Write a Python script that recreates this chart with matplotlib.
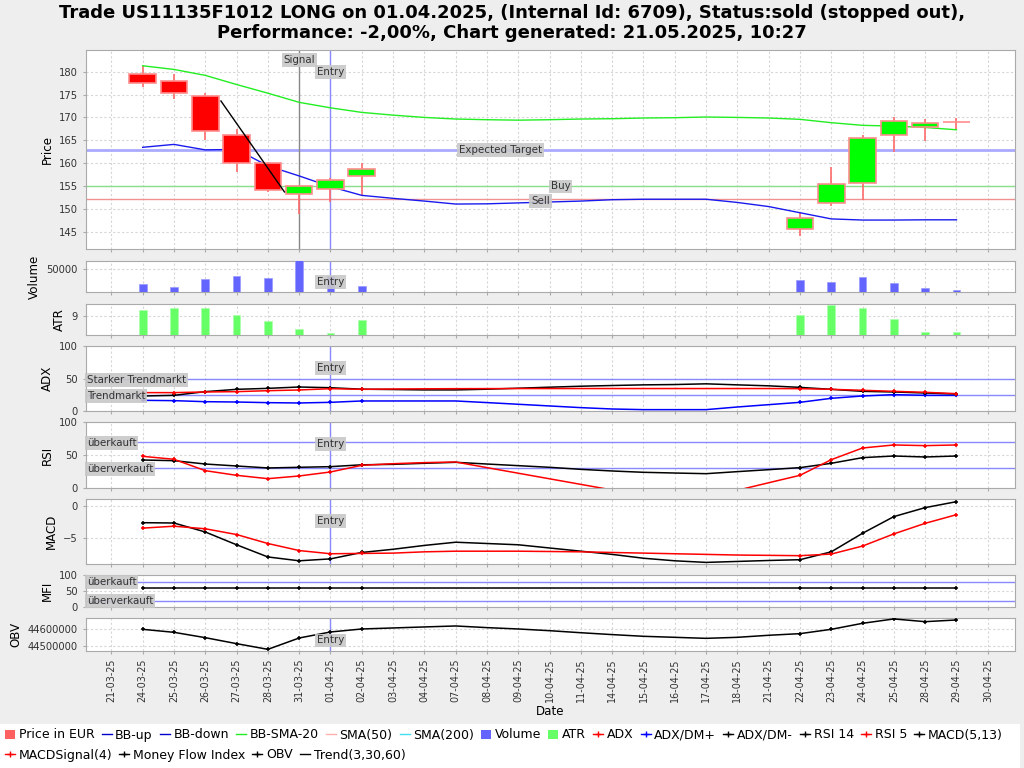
import numpy as np
import matplotlib
matplotlib.use('Agg')
import matplotlib.pyplot as plt
from matplotlib.lines import Line2D
from matplotlib.patches import Rectangle
from matplotlib.ticker import FuncFormatter

plt.rcParams['font.family'] = ['DejaVu Sans']

N = None
dates = ['21-03-25', '24-03-25', '25-03-25', '26-03-25', '27-03-25', '28-03-25', '31-03-25',
         '01-04-25', '02-04-25', '03-04-25', '04-04-25', '07-04-25', '08-04-25', '09-04-25',
         '10-04-25', '11-04-25', '14-04-25', '15-04-25', '16-04-25', '17-04-25', '18-04-25',
         '21-04-25', '22-04-25', '23-04-25', '24-04-25', '25-04-25', '28-04-25', '29-04-25',
         '30-04-25']
GAP = [N] * 13

# Candles (price in EUR)
c_open = [N, 179.6, 178.0, 174.7, 166.1, 160.0, 153.2, 154.3, 157.2] + GAP + \
         [145.7, 151.3, 155.7, 166.2, 168.0, 169.05, N]
c_close = [N, 177.5, 175.3, 167.0, 160.1, 154.1, 155.1, 156.4, 158.7] + GAP + \
          [147.9, 155.5, 165.6, 169.2, 168.85, 169.0, N]
c_high = [N, 181.3, 179.4, 175.4, 167.5, 160.2, 155.3, 156.8, 160.0] + GAP + \
         [149.2, 159.1, 166.2, 170.1, 169.6, 169.8, N]
c_low = [N, 176.6, 174.0, 165.1, 158.1, 153.7, 148.9, 151.4, 153.0] + GAP + \
        [144.05, 150.7, 152.0, 162.4, 164.8, 167.4, N]

volume = [N, 18600, 12200, 28600, 35000, 30000, 70000, 34300, 13600] + GAP + \
         [26500, 22900, 32900, 20700, 9300, 5000, N]
atr = [N, 9.49, 9.63, 9.61, 9.11, 8.64, 8.05, 7.77, 8.77] + GAP + \
      [9.11, 9.88, 9.61, 8.84, 7.85, 7.85, N]

bb_sma20 = [N, 181.3, 180.5, 179.2, 177.2, 175.3, 173.3, 172.1, 171.1, 170.5, 170.0, 169.65,
            169.5, 169.4, 169.5, 169.65, 169.72, 169.87, 169.94, 170.09, 170.0, 169.87, 169.58,
            168.85, 168.27, 168.1, 167.8, 167.3, N]
bb_down = [N, 163.46, 164.1, 162.9, 163.0, 159.4, 157.2, 154.85, 152.95, 152.3, 151.7, 151.05,
           151.1, 151.3, 151.5, 151.7, 152.0, 152.1, 152.1, 152.1, 151.4, 150.5, 149.15,
           147.8, 147.55, 147.55, 147.6, 147.6, N]

adx = [N, 28.4, 28.4, 29.4, 29.9, 31.4, 32.5, 34.5, 33.5, 34.0, 34.3, 34.5, 34.6, 34.7, 34.7,
       34.7, 34.7, 34.7, 34.7, 34.7, 34.7, 34.7, 34.5, 33.5, 32.0, 30.4, 28.9, 26.8, N]
adx_dmp = [N, 16.5, 16.0, 14.4, 13.9, 12.9, 12.4, 13.4, 15.5, 15.5, 15.5, 15.5, 13.0, 10.4, 7.8,
           5.2, 3.1, 2.1, 2.1, 2.1, 6.2, 9.8, 13.4, 19.6, 23.2, 25.3, 24.2, 24.2, N]
adx_dmm = [N, 23.2, 24.2, 29.9, 33.5, 35.0, 37.1, 36.0, 33.7, 33.2, 32.6, 32.6, 33.7, 35.2, 36.8,
           38.3, 39.4, 40.4, 40.9, 42.0, 40.4, 38.9, 36.5, 33.5, 30.4, 29.4, 27.8, 26.3, N]

rsi14 = [N, 42.6, 41.6, 36.5, 33.5, 30.5, 31.5, 32.5, 35.3, 36.0, 37.6, 39.1, 36.5, 34.0, 31.5,
         28.4, 25.9, 23.9, 22.8, 21.8, 24.9, 27.9, 31.0, 37.6, 46.2, 48.7, 47.2, 48.7, N]
rsi5 = [N, 48.2, 43.7, 26.4, 19.3, 14.2, 18.3, 24.4, 34.5, 37.0, 38.6, 39.6, 31.0, 22.5, 14.0,
        5.5, -3.0, -11.5, -22.0, -15.0, -3.5, 8.0, 19.3, 43.1, 60.9, 65.5, 64.5, 65.5, N]

macd = [N, -2.55, -2.6, -4.0, -6.0, -7.9, -8.5, -8.2, -7.2, -6.7, -6.1, -5.6, -5.8, -6.0, -6.5,
        -7.0, -7.5, -8.1, -8.5, -8.75, -8.6, -8.45, -8.33, -7.1, -4.2, -1.6, -0.2, 0.73, N]
macd_sig = [N, -3.4, -3.1, -3.5, -4.4, -5.8, -6.9, -7.4, -7.35, -7.3, -7.1, -7.0, -7.0, -7.0,
            -7.05, -7.1, -7.2, -7.3, -7.4, -7.5, -7.6, -7.65, -7.7, -7.45, -6.2, -4.3, -2.65,
            -1.3, N]

mfi = [N] + [59] * 27 + [N]

obv = [N, 44596000, 44578400, 44547000, 44511800, 44478400, 44545000, 44580400, 44598000,
       44604000, 44610000, 44615700, 44606000, 44598000, 44588000, 44576000, 44565000,
       44555000, 44549000, 44543000, 44549000, 44561000, 44570600, 44596000, 44631400,
       44657000, 44641000, 44651000, N]

trend_x = [3.5, 5.53]
trend_y = [173.6, 153.7]

signal_idx = 6
entry_idx = 7
expected_target = 162.9
buy_level = 155.1
sell_level = 152.1

# ---------------------------------------------------------------------------
idx = np.arange(len(dates))


def arr(v):
    return np.array([np.nan if a is None else a for a in v], dtype=float)


mark_mask = ~np.isnan(arr(c_close))

W, H = 1024, 768
fig = plt.figure(figsize=(W / 100, H / 100), dpi=100, facecolor='#eeeeee')

L, R = 85.7, 1015.0
TICK_FS = 7.2
YL_FS = 8.6


def mkax(top, bot):
    return fig.add_axes([L / W, 1 - bot / H, (R - L) / W, (bot - top) / H])


ax_p = mkax(50, 249.3)
ax_v = mkax(260.7, 292.3)
ax_a = mkax(303.7, 335.3)
ax_x = mkax(346.3, 411)
ax_r = mkax(422.3, 488)
ax_m = mkax(499.3, 564)
ax_f = mkax(575.3, 607)
ax_o = mkax(618.3, 651)
axes = [ax_p, ax_v, ax_a, ax_x, ax_r, ax_m, ax_f, ax_o]

XL = (-0.82, 28.87)
for ax in axes:
    ax.set_facecolor('white')
    ax.set_xlim(*XL)
    ax.set_xticks(idx)
    ax.grid(True, color='#d6d6d6', ls=(0, (2, 2)), lw=0.8)
    ax.set_axisbelow(True)
    for s in ax.spines.values():
        s.set_color('#aaaaaa')
    ax.tick_params(labelsize=TICK_FS, length=2, color='#aaaaaa', labelcolor='#333333')
    if ax is not ax_o:
        ax.tick_params(labelbottom=False)

LBL = dict(fontsize=7.4, color='#333333',
           bbox=dict(facecolor='#c8c8c8', edgecolor='none', pad=1.3, alpha=0.9))


def label(ax, x, y, s, ha='center'):
    ax.text(x, y, s, ha=ha, va='center', zorder=6, **LBL)


def series(ax, vals, color, lw=1.1):
    y = arr(vals)
    ok = ~np.isnan(y)
    ax.plot(idx[ok], y[ok], color=color, lw=lw, zorder=3, solid_joinstyle='round')
    m = ok & mark_mask
    ax.plot(idx[m], y[m], ls='none', marker='+', ms=3.5, mew=1.1, color=color, zorder=4)


# ---------------- Price panel ----------------
o, c, h, l = arr(c_open), arr(c_close), arr(c_high), arr(c_low)
bw = 0.85
for i in idx[mark_mask]:
    up = c[i] >= o[i]
    fc = '#00ff00' if up else '#ff0000'
    ax_p.vlines(i, l[i], h[i], color='#ff6b6b', lw=1.2, zorder=3)
    ax_p.add_patch(Rectangle((i - bw / 2, min(o[i], c[i])), bw, abs(c[i] - o[i]),
                             facecolor=fc, edgecolor='#ff8c8c', lw=1.2, zorder=4))
ya = arr(bb_sma20)
ok = ~np.isnan(ya)
ax_p.plot(idx[ok], ya[ok], color='#22ee22', lw=1.0, zorder=3)
yb = arr(bb_down)
ok = ~np.isnan(yb)
ax_p.plot(idx[ok], yb[ok], color='#1a1aee', lw=1.0, zorder=3)
ax_p.plot(trend_x, trend_y, color='black', lw=1.0, zorder=5)
ax_p.axhline(expected_target, color='#aaaaff', lw=2, zorder=2)
ax_p.axhline(buy_level, color='#88e088', lw=1, zorder=2)
ax_p.axhline(sell_level, color='#f09090', lw=1, zorder=2)
ax_p.axvline(signal_idx, color='#888888', lw=1, zorder=2)
ax_p.axvline(entry_idx, color='#8888ff', lw=1, zorder=2)
ax_p.set_ylim(141.15, 184.75)
ax_p.set_yticks([145, 150, 155, 160, 165, 170, 175, 180])
ax_p.set_ylabel('Price', fontsize=YL_FS)
label(ax_p, signal_idx, 182.6, 'Signal')
label(ax_p, entry_idx, 179.9, 'Entry')
label(ax_p, 12.42, expected_target, 'Expected Target')
label(ax_p, 14.35, 154.9, 'Buy')
label(ax_p, 13.71, 151.75, 'Sell')

# ---------------- Volume ----------------
vw = 0.25
v = arr(volume)
ax_v.bar(idx[mark_mask], v[mark_mask], width=vw, color='#6464ff', edgecolor='#9a9aff',
         lw=0.5, zorder=3)
ax_v.axvline(entry_idx, color='#8888ff', lw=1, zorder=2)
ax_v.set_ylim(0, 67800)
ax_v.set_yticks([50000])
ax_v.set_ylabel('Volume', fontsize=YL_FS)
label(ax_v, entry_idx, 22700, 'Entry')

# ---------------- ATR ----------------
a = arr(atr)
ax_a.bar(idx[mark_mask], a[mark_mask], width=vw, color='#66ff66', edgecolor='#aaffaa',
         lw=0.5, zorder=3)
ax_a.set_ylim(7.6, 9.95)
ax_a.set_yticks([9])
ax_a.set_ylabel('ATR', fontsize=YL_FS)

# ---------------- ADX ----------------
ax_x.axhline(50, color='#8888ff', lw=1, zorder=2)
ax_x.axhline(25, color='#8888ff', lw=1, zorder=2)
ax_x.axvline(entry_idx, color='#8888ff', lw=1, zorder=2)
series(ax_x, adx_dmp, '#0000ff')
series(ax_x, adx_dmm, '#000000')
series(ax_x, adx, '#ff0000')
ax_x.set_ylim(0, 100)
ax_x.set_yticks([0, 50, 100])
ax_x.set_ylabel('ADX', fontsize=YL_FS)
label(ax_x, entry_idx, 66.5, 'Entry')
label(ax_x, -0.78, 48, 'Starker Trendmarkt', ha='left')
label(ax_x, -0.78, 23, 'Trendmarkt', ha='left')

# ---------------- RSI ----------------
ax_r.axhline(70, color='#8888ff', lw=1, zorder=2)
ax_r.axhline(30, color='#8888ff', lw=1, zorder=2)
ax_r.axvline(entry_idx, color='#8888ff', lw=1, zorder=2)
series(ax_r, rsi14, '#000000')
series(ax_r, rsi5, '#ff0000')
ax_r.set_ylim(0, 100)
ax_r.set_yticks([0, 50, 100])
ax_r.set_ylabel('RSI', fontsize=YL_FS)
label(ax_r, entry_idx, 67, 'Entry')
label(ax_r, -0.78, 69, 'überkauft', ha='left')
label(ax_r, -0.78, 28.5, 'überverkauft', ha='left')

# ---------------- MACD ----------------
ax_m.axvline(entry_idx, color='#8888ff', lw=1, zorder=2)
series(ax_m, macd, '#000000')
series(ax_m, macd_sig, '#ff0000')
ax_m.set_ylim(-9.0, 1.1)
ax_m.set_yticks([-5, 0])
ax_m.set_ylabel('MACD', fontsize=YL_FS)
label(ax_m, entry_idx, -2.3, 'Entry')

# ---------------- MFI ----------------
ax_f.axhline(80, color='#8888ff', lw=1, zorder=2)
ax_f.axhline(20, color='#8888ff', lw=1, zorder=2)
series(ax_f, mfi, '#000000')
ax_f.set_ylim(0, 100)
ax_f.set_yticks([0, 50, 100])
ax_f.set_ylabel('MFI', fontsize=YL_FS)
label(ax_f, -0.78, 79, 'überkauft', ha='left')
label(ax_f, -0.78, 19, 'überverkauft', ha='left')

# ---------------- OBV ----------------
ax_o.axvline(entry_idx, color='#8888ff', lw=1, zorder=2)
series(ax_o, obv, '#000000')
ax_o.set_ylim(44468600, 44660800)
ax_o.set_yticks([44500000, 44600000])
ax_o.yaxis.set_major_formatter(FuncFormatter(lambda val, p: f'{val:.0f}'))
ax_o.set_ylabel('OBV', fontsize=YL_FS)
label(ax_o, entry_idx, 44530600, 'Entry')
ax_o.set_xticks(idx)
ax_o.set_xticklabels(dates, rotation=90, fontsize=6.9)
ax_o.set_xlabel('Date', fontsize=YL_FS, labelpad=2)

# ---------------- Title ----------------
fig.text(0.5, 1 - 13 / H,
         'Trade US11135F1012 LONG on 01.04.2025, (Internal Id: 6709), Status:sold (stopped out),',
         ha='center', va='center', fontsize=13, weight='bold')
fig.text(0.5, 1 - 33 / H, 'Performance: -2,00%, Chart generated: 21.05.2025, 10:27',
         ha='center', va='center', fontsize=13, weight='bold')

# ---------------- Legend ----------------
fig.patches.append(Rectangle((0, 0), 1020 / W, 44 / H, transform=fig.transFigure,
                             facecolor='white', edgecolor='none', zorder=0))


def lh(color, marker=None):
    return Line2D([0], [0], color=color, lw=1, marker=marker, ms=5, mew=1)


def ph(color):
    return Rectangle((0, 0), 1, 1, facecolor=color, edgecolor='none')


row1 = [(ph('#ff6060'), 'Price in EUR'), (lh('#0000cc'), 'BB-up'), (lh('#0000cc'), 'BB-down'),
        (lh('#22ee22'), 'BB-SMA-20'), (lh('#ffb0b0'), 'SMA(50)'), (lh('#40e0f0'), 'SMA(200)'),
        (ph('#6464ff'), 'Volume'), (ph('#66ff66'), 'ATR'), (lh('#ff0000', '+'), 'ADX'),
        (lh('#0000ff', '+'), 'ADX/DM+'), (lh('#000000', '+'), 'ADX/DM-'),
        (lh('#000000', '+'), 'RSI 14'), (lh('#ff0000', '+'), 'RSI 5'),
        (lh('#000000', '+'), 'MACD(5,13)')]
row2 = [(lh('#ff0000', '+'), 'MACDSignal(4)'), (lh('#000000', '+'), 'Money Flow Index'),
        (lh('#000000', '+'), 'OBV'), (lh('#000000'), 'Trend(3,30,60)')]
for row, yy in ((row1, 735), (row2, 755)):
    fig.legend([r[0] for r in row], [r[1] for r in row], loc='center left',
               bbox_to_anchor=(0.0, 1 - yy / H), ncol=len(row), frameon=False, fontsize=9,
               handlelength=0.8, handletextpad=0.3, columnspacing=0.56, borderaxespad=0.2,
               borderpad=0.2, handleheight=0.7)

fig.savefig('out.png', dpi=100, facecolor=fig.get_facecolor())
